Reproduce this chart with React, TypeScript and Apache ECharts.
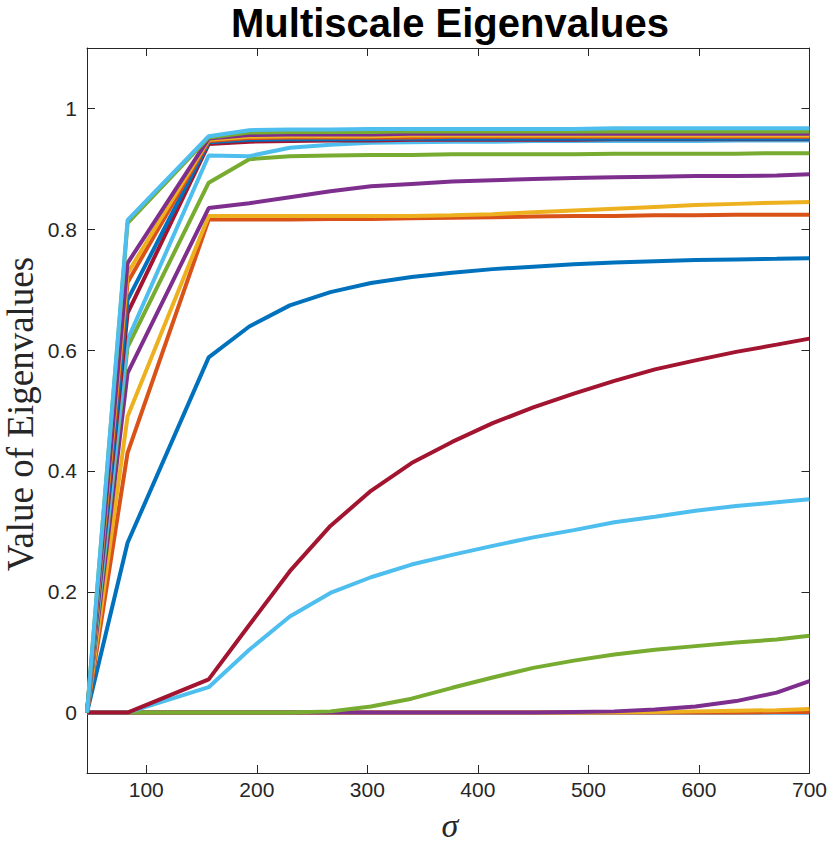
import React, { useEffect, useRef } from "react";
import * as echarts from "echarts";

// sigma sample positions
const sigma = [46.4, 83.1, 156.5, 193.2, 229.9, 266.6, 303.3, 340, 376.7, 413.4, 450.1, 486.8, 523.5, 560.2, 596.9, 633.6, 670.3, 700];

const xTicks = [100, 200, 300, 400, 500, 600, 700];
const yTicks = [0, 0.2, 0.4, 0.6, 0.8, 1];

const lam1 = [0, 0, 0, 0, 0, 0, 0, 0, 0, 0, 0, 0, 0, 0, 0, 0, 0, 0];
const lam2 = [0, 0, 0, 0, 0, 0, 0, 0, 0, 0, 0, 0, 0, 0, 0, 0, 0.001, 0.001];
const lam3 = [0, 0, 0, 0, 0, 0, 0, 0, 0, 0, 0, 0, 0.0005, 0.001, 0.002, 0.003, 0.004, 0.006];
const lam4 = [0, 0, 0, 0, 0, 0, 0, 0, 0, 0, 0, 0.001, 0.002, 0.005, 0.01, 0.019, 0.033, 0.052];
const lam5 = [0, 0, 0, 0, 0, 0.002, 0.01, 0.023, 0.041, 0.058, 0.074, 0.086, 0.096, 0.104, 0.11, 0.116, 0.121, 0.127];
const lam6 = [0, 0, 0.042, 0.104, 0.159, 0.198, 0.224, 0.245, 0.261, 0.276, 0.29, 0.302, 0.315, 0.324, 0.334, 0.342, 0.348, 0.353];
const lam7 = [0, 0, 0.055, 0.145, 0.234, 0.309, 0.367, 0.413, 0.448, 0.479, 0.505, 0.528, 0.549, 0.568, 0.583, 0.597, 0.609, 0.619];
const lam8 = [0, 0.281, 0.588, 0.639, 0.674, 0.696, 0.711, 0.721, 0.728, 0.734, 0.738, 0.742, 0.745, 0.747, 0.749, 0.75, 0.751, 0.752];
const lam9 = [0, 0.43, 0.816, 0.816, 0.816, 0.817, 0.817, 0.818, 0.819, 0.82, 0.821, 0.822, 0.822, 0.823, 0.823, 0.824, 0.824, 0.824];
const lam10 = [0, 0.49, 0.822, 0.822, 0.822, 0.822, 0.822, 0.822, 0.823, 0.825, 0.828, 0.831, 0.834, 0.837, 0.84, 0.842, 0.844, 0.845];
const lam11 = [0, 0.562, 0.835, 0.843, 0.853, 0.863, 0.871, 0.875, 0.879, 0.881, 0.883, 0.885, 0.886, 0.887, 0.888, 0.888, 0.889, 0.891];
const lam12 = [0, 0.605, 0.877, 0.916, 0.921, 0.922, 0.923, 0.923, 0.924, 0.924, 0.924, 0.924, 0.925, 0.925, 0.925, 0.925, 0.926, 0.926];
const lam13 = [0, 0.617, 0.922, 0.921, 0.935, 0.94, 0.943, 0.944, 0.945, 0.945, 0.946, 0.946, 0.946, 0.946, 0.946, 0.947, 0.947, 0.947];
const lam14 = [0, 0.661, 0.941, 0.945, 0.946, 0.947, 0.947, 0.948, 0.948, 0.948, 0.948, 0.948, 0.949, 0.949, 0.949, 0.949, 0.949, 0.949];
const lam15 = [0, 0.683, 0.944, 0.948, 0.949, 0.949, 0.949, 0.95, 0.95, 0.95, 0.95, 0.95, 0.95, 0.95, 0.95, 0.95, 0.95, 0.95];
const lam16 = [0, 0.712, 0.946, 0.951, 0.952, 0.952, 0.952, 0.952, 0.953, 0.953, 0.953, 0.953, 0.953, 0.953, 0.953, 0.953, 0.953, 0.953];
const lam17 = [0, 0.727, 0.948, 0.953, 0.954, 0.954, 0.954, 0.955, 0.955, 0.955, 0.955, 0.955, 0.955, 0.955, 0.955, 0.955, 0.955, 0.955];
const lam18 = [0, 0.744, 0.95, 0.956, 0.957, 0.957, 0.957, 0.958, 0.958, 0.958, 0.958, 0.958, 0.958, 0.958, 0.958, 0.958, 0.958, 0.958];
const lam19 = [0, 0.81, 0.952, 0.96, 0.961, 0.961, 0.961, 0.962, 0.962, 0.962, 0.962, 0.962, 0.962, 0.962, 0.962, 0.962, 0.962, 0.962];
const lam20 = [0, 0.815, 0.954, 0.964, 0.965, 0.965, 0.966, 0.966, 0.966, 0.966, 0.966, 0.966, 0.967, 0.967, 0.967, 0.967, 0.967, 0.967];

const eigen = [lam1, lam2, lam3, lam4, lam5, lam6, lam7, lam8, lam9, lam10, lam11, lam12, lam13, lam14, lam15, lam16, lam17, lam18, lam19, lam20];

const palette = ["#0072BD", "#D95319", "#EDB120", "#7E2F8E", "#77AC30", "#4DBEEE", "#A2142F"];

const AXIS_COLOR = "#262626";

export default function App() {
  const ref = useRef<HTMLDivElement>(null);

  useEffect(() => {
    document.body.style.margin = "0";
    if (!ref.current) return;
    const chart = echarts.init(ref.current, null, { renderer: "svg" });

    const baseX = {
      type: "value",
      min: 46.4,
      max: 700,
      axisLine: { show: true, onZero: false, lineStyle: { color: AXIS_COLOR, width: 1 } },
      axisTick: { show: true, inside: true, length: 8, customValues: xTicks, lineStyle: { color: AXIS_COLOR, width: 1 } },
      splitLine: { show: false },
    };
    const baseY = {
      type: "value",
      min: -0.1,
      max: 1.1,
      axisLine: { show: true, onZero: false, lineStyle: { color: AXIS_COLOR, width: 1 } },
      axisTick: { show: true, inside: true, length: 8, customValues: yTicks, lineStyle: { color: AXIS_COLOR, width: 1 } },
      splitLine: { show: false },
    };

    chart.setOption({
      animation: false,
      backgroundColor: "#ffffff",
      grid: { left: 87, right: 17, top: 48, bottom: 72, containLabel: false },
      xAxis: [
        {
          ...baseX,
          position: "bottom",
          axisLabel: {
            show: true,
            customValues: xTicks,
            fontSize: 21,
            fontFamily: "Liberation Sans",
            color: AXIS_COLOR,
            margin: 6,
          },
        },
        { ...baseX, position: "top", axisLabel: { show: false } },
      ],
      yAxis: [
        {
          ...baseY,
          position: "left",
          axisLabel: {
            show: true,
            customValues: yTicks,
            fontSize: 21,
            fontFamily: "Liberation Sans",
            color: AXIS_COLOR,
            margin: 10,
          },
        },
        { ...baseY, position: "right", axisLabel: { show: false } },
      ],
      series: eigen.map((vals, i) => ({
        type: "line",
        name: "lambda" + (i + 1),
        xAxisIndex: 0,
        yAxisIndex: 0,
        data: sigma.map((s, k) => [s, vals[k]]),
        showSymbol: false,
        symbol: "none",
        clip: true,
        lineStyle: { width: 4, color: palette[i % palette.length] },
        itemStyle: { color: palette[i % palette.length] },
        z: 2 + i * 0.01,
      })),
      graphic: [
        {
          type: "text",
          x: 450,
          y: 23,
          style: {
            text: "Multiscale Eigenvalues",
            fontSize: 40,
            fontWeight: "bold",
            fontFamily: "Liberation Sans",
            fill: "#000000",
            align: "center",
            verticalAlign: "middle",
          },
        },
        {
          type: "text",
          x: 20,
          y: 414,
          rotation: Math.PI / 2,
          style: {
            text: "Value of Eigenvalues",
            fontSize: 37,
            fontFamily: "Liberation Serif",
            fill: AXIS_COLOR,
            align: "center",
            verticalAlign: "middle",
          },
        },
        {
          type: "text",
          x: 450,
          y: 825,
          style: {
            text: "σ",
            fontSize: 34,
            fontStyle: "italic",
            fontFamily: "Liberation Serif",
            fill: AXIS_COLOR,
            align: "center",
            verticalAlign: "middle",
          },
        },
      ],
    });

    return () => {
      chart.dispose();
    };
  }, []);

  return <div ref={ref} style={{ width: 830, height: 845 }} />;
}
